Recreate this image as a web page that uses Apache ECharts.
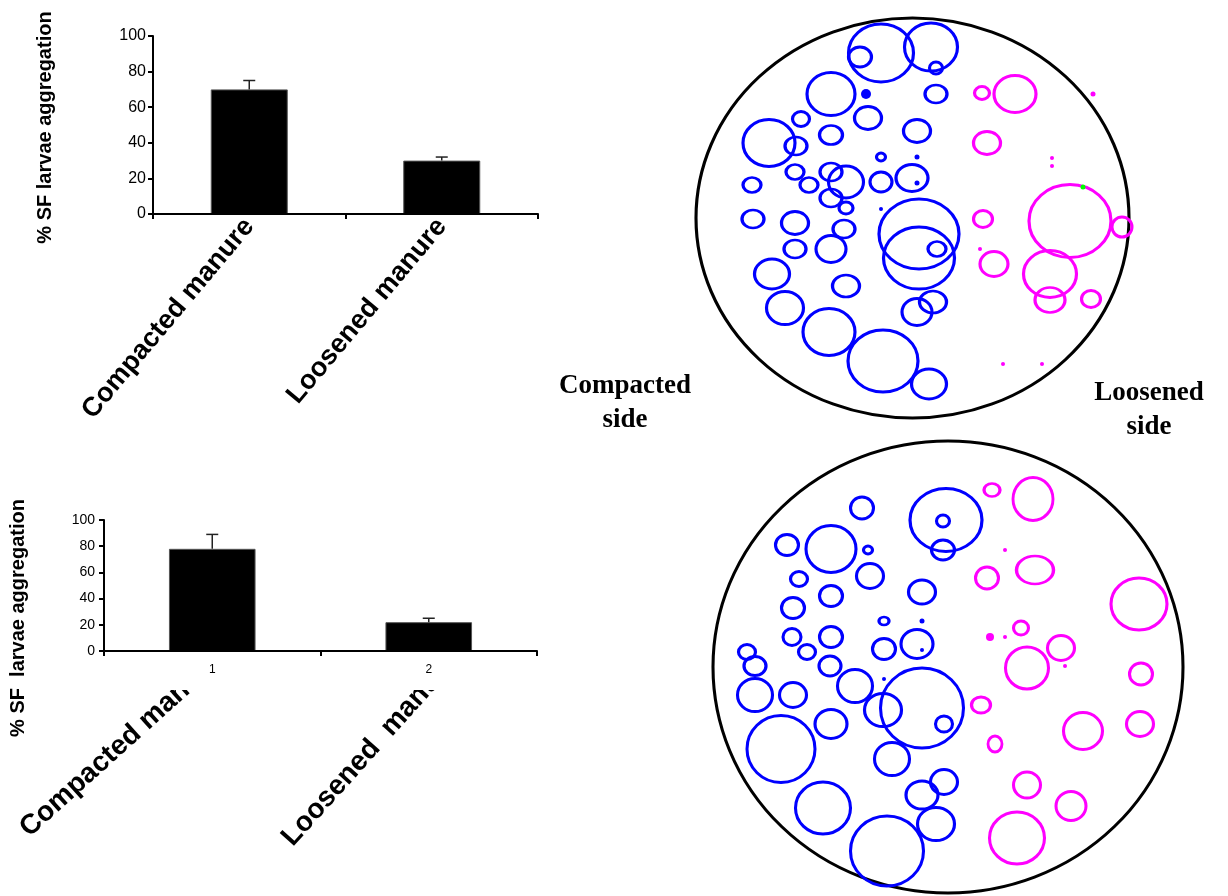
<!DOCTYPE html>
<html>
<head>
<meta charset="utf-8">
<script src="https://cdn.jsdelivr.net/npm/echarts@6/dist/echarts.min.js"></script>
<style>
html,body{margin:0;padding:0;background:#fff;}
#c{width:1228px;height:896px;}
</style>
</head>
<body>
<div id="c"></div>
<script>
// ---------- bar chart data ----------
var topCategories = ['Compacted manure', 'Loosened manure'];
var topValues = [70, 30];
var topErrorTops = [75, 32];
var bottomTickLabels = ['1', '2'];
var bottomCategoryNames = ['Compacted manure', 'Loosened  manure'];
var bottomValues = [78, 22];
var bottomErrorTops = [89, 25];
var yTicks = [0, 20, 40, 60, 80, 100];
var yTitleTop = '% SF larvae aggregation';
var yTitleBottom = '% SF  larvae aggregation';

// ---------- circle diagram data: [x, y, width, height] ----------
var outerArenas = [[912.5, 218, 433, 400], [948, 667, 470, 452]];
var blueTop = [
  [881,53,65,58],[860,57,23,20],[931,47,53,48],[936,68,13,12],[831,94,48,43],
  [936,94,22,18],[868,118,27,23],[801,119,17,15],[831,135,23,19],[917,131,27,23],
  [769,143,52,47],[796,146,22,18],[881,157,9,8],[795,172,18,15],[831,172,22,18],
  [846,182,35,32],[752,185,18,15],[809,185,18,15],[881,182,22,20],[912,178,32,27],
  [831,198,22,18],[846,208,14,12],[753,219,22,18],[795,223,27,23],[844,229,22,18],
  [919,234,80,70],[919,258,71,62],[937,249,18,15],[795,249,22,18],[831,249,30,27],
  [772,274,35,30],[846,286,27,22],[785,308,37,33],[933,302,27,22],[917,312,30,27],
  [829,332,52,47],[883,361,70,62],[929,384,35,30]
];
var blueTopDots = [[866,94,10,10],[917,157,5,5],[917,183,5,5],[881,209,4,4]];
var magentaTop = [
  [982,93,15,13],[1015,94,42,37],[987,143,27,23],[1070,221,82,73],[1122,227,20,20],
  [983,219,19,17],[994,264,28,25],[1050,274,53,47],[1050,300,30,25],[1091,299,19,17]
];
var magentaTopDots = [[1093,94,5,5],[1052,158,4,4],[1052,166,4,4],[980,249,4,4],[1003,364,4,4],[1042,364,4,4]];
var greenDots = [[1083,187,5,5]];
var blueBottom = [
  [862,508,23,22],[946,520,72,63],[943,521,13,12],[943,550,23,20],[787,545,23,21],
  [831,549,50,47],[868,550,9,8],[799,579,17,15],[870,576,27,25],[831,596,23,21],
  [922,592,27,24],[793,608,23,21],[884,621,10,8],[792,637,18,17],[831,637,23,21],
  [884,649,23,21],[917,644,32,29],[747,652,17,15],[807,652,17,15],[755,666,22,19],
  [830,666,22,20],[855,686,35,33],[922,708,83,80],[883,710,37,33],[944,724,17,16],
  [755,695,35,33],[793,695,27,25],[831,724,32,29],[781,749,68,67],[892,759,35,33],
  [944,782,27,25],[922,795,32,28],[823,808,55,52],[936,824,37,33],[887,851,73,70]
];
var blueBottomDots = [[922,621,5,5],[922,650,4,4],[884,679,4,4]];
var magentaBottom = [
  [992,490,16,13],[1033,499,40,43],[987,578,23,22],[1035,570,37,28],[1139,604,56,52],
  [1021,628,15,14],[1061,648,27,25],[1027,668,43,42],[1141,674,23,22],[981,705,19,16],
  [1083,731,39,37],[1140,724,27,25],[995,744,14,16],[1027,785,27,26],[1071,806,30,29],
  [1017,838,55,52]
];
var magentaBottomDots = [[1005,550,4,4],[990,637,8,8],[1005,637,4,4],[1065,666,4,4]];
var sideLabels = ['Compacted\nside', 'Loosened\nside'];

// ---------- helpers ----------
var FONT = '"Liberation Sans", Arial, sans-serif';
var SERIF = '"Liberation Serif", "Times New Roman", serif';
function errData(vals, tops) { return vals.map(function (v, i) { return [i, v, tops[i]]; }); }
function errRender(params, api) {
  var i = api.value(0), v = api.value(1), e = api.value(2);
  var p0 = api.coord([i, v]), p1 = api.coord([i, e]);
  return { type: 'group', children: [
    { type: 'line', shape: { x1: p0[0], y1: p0[1], x2: p1[0], y2: p1[1] }, style: { stroke: '#222', lineWidth: 1.5 } },
    { type: 'line', shape: { x1: p1[0] - 6, y1: p1[1], x2: p1[0] + 6, y2: p1[1] }, style: { stroke: '#222', lineWidth: 1.5 } }
  ] };
}
function ringSeries(data, color, width, filled) {
  return {
    type: 'scatter', xAxisIndex: 2, yAxisIndex: 2, data: data, silent: true,
    symbol: 'circle',
    symbolSize: function (d) { return [d[2], d[3]]; },
    itemStyle: filled ? { color: color, borderWidth: 0, opacity: 1 } :
      { color: 'rgba(0,0,0,0)', borderColor: color, borderWidth: width, opacity: 1 },
    z: 3
  };
}

var chart = echarts.init(document.getElementById('c'), null, { renderer: 'canvas' });
var axisLineStyle = { color: '#000', width: 2 };

var option = {
  animation: false,
  backgroundColor: '#fff',
  grid: [
    { left: 153, top: 36, width: 385, height: 178, containLabel: false },
    { left: 104, top: 520, width: 433, height: 131, containLabel: false },
    { left: 0, top: 0, width: 1228, height: 896, containLabel: false }
  ],
  xAxis: [
    { type: 'category', gridIndex: 0, data: topCategories, z: 10,
      axisLine: { lineStyle: axisLineStyle },
      axisTick: { show: true, inside: false, length: 5, lineStyle: { color: '#000', width: 2 } },
      axisLabel: { interval: 0, rotate: 50, margin: 8, color: '#000', fontFamily: FONT, fontWeight: 'bold', fontSize: 27 },
      splitLine: { show: false } },
    { type: 'category', gridIndex: 1, data: bottomTickLabels, z: 10,
      axisLine: { lineStyle: axisLineStyle },
      axisTick: { show: true, inside: false, length: 5, lineStyle: { color: '#000', width: 2 } },
      axisLabel: { interval: 0, margin: 13, color: '#000', fontFamily: FONT, fontSize: 12 },
      splitLine: { show: false } },
    { type: 'value', gridIndex: 2, min: 0, max: 1228, show: false }
  ],
  yAxis: [
    { type: 'value', gridIndex: 0, min: 0, max: 100, interval: 20, z: 10,
      axisLine: { show: true, lineStyle: axisLineStyle },
      axisTick: { show: true, inside: false, length: 5, lineStyle: { color: '#000', width: 2 } },
      axisLabel: { margin: 7, color: '#000', fontFamily: FONT, fontSize: 16 },
      splitLine: { show: false } },
    { type: 'value', gridIndex: 1, min: 0, max: 100, interval: 20, z: 10,
      axisLine: { show: true, lineStyle: axisLineStyle },
      axisTick: { show: true, inside: false, length: 5, lineStyle: { color: '#000', width: 2 } },
      axisLabel: { margin: 9, color: '#000', fontFamily: FONT, fontSize: 14 },
      splitLine: { show: false } },
    { type: 'value', gridIndex: 2, min: 0, max: 896, inverse: true, show: false }
  ],
  series: [
    { type: 'bar', xAxisIndex: 0, yAxisIndex: 0, data: topValues, barWidth: '40%', z: 5,
      itemStyle: { color: '#000', borderColor: '#555', borderWidth: 1 } },
    { type: 'custom', xAxisIndex: 0, yAxisIndex: 0, data: errData(topValues, topErrorTops), renderItem: errRender, z: 6 },
    { type: 'bar', xAxisIndex: 1, yAxisIndex: 1, data: bottomValues, barWidth: '40%', z: 5,
      itemStyle: { color: '#000', borderColor: '#555', borderWidth: 1 } },
    { type: 'custom', xAxisIndex: 1, yAxisIndex: 1, data: errData(bottomValues, bottomErrorTops), renderItem: errRender, z: 6 },
    ringSeries(outerArenas, '#000', 3, false),
    ringSeries(blueTop, '#0000ff', 3, false),
    ringSeries(blueTopDots, '#0000ff', 0, true),
    ringSeries(magentaTop, '#ff00ff', 3, false),
    ringSeries(magentaTopDots, '#ff00ff', 0, true),
    ringSeries(greenDots, '#00ff00', 0, true),
    ringSeries(blueBottom, '#0000ff', 3, false),
    ringSeries(blueBottomDots, '#0000ff', 0, true),
    ringSeries(magentaBottom, '#ff00ff', 3, false),
    ringSeries(magentaBottomDots, '#ff00ff', 0, true)
  ],
  graphic: { elements: [
    { type: 'text', x: 45.5, y: 127.5, rotation: Math.PI / 2, z: 3,
      style: { text: yTitleTop, fill: '#000', fontFamily: FONT, fontWeight: 'bold', fontSize: 20, align: 'center', verticalAlign: 'middle' } },
    { type: 'text', x: 18, y: 618, rotation: Math.PI / 2, z: 3,
      style: { text: yTitleBottom, fill: '#000', fontFamily: FONT, fontWeight: 'bold', fontSize: 20, align: 'center', verticalAlign: 'middle' } },
    { type: 'text', x: 24, y: 832, rotation: 42 * Math.PI / 180, z: 1,
      style: { text: bottomCategoryNames[0], fill: '#000', fontFamily: FONT, fontWeight: 'bold', fontSize: 28, align: 'left', verticalAlign: 'middle' } },
    { type: 'text', x: 287, y: 842, rotation: 48 * Math.PI / 180, z: 1,
      style: { text: bottomCategoryNames[1], fill: '#000', fontFamily: FONT, fontWeight: 'bold', fontSize: 28, align: 'left', verticalAlign: 'middle' } },
    { type: 'rect', shape: { x: 110, y: 652, width: 440, height: 38 }, z: 2, style: { fill: '#fff' } },
    { type: 'text', x: 625, y: 403, z: 3,
      style: { text: sideLabels[0], fill: '#000', fontFamily: SERIF, fontWeight: 'bold', fontSize: 27, lineHeight: 34, align: 'center', verticalAlign: 'middle' } },
    { type: 'text', x: 1149, y: 410, z: 3,
      style: { text: sideLabels[1], fill: '#000', fontFamily: SERIF, fontWeight: 'bold', fontSize: 27, lineHeight: 34, align: 'center', verticalAlign: 'middle' } }
  ] }
};
chart.setOption(option);
</script>
</body>
</html>
